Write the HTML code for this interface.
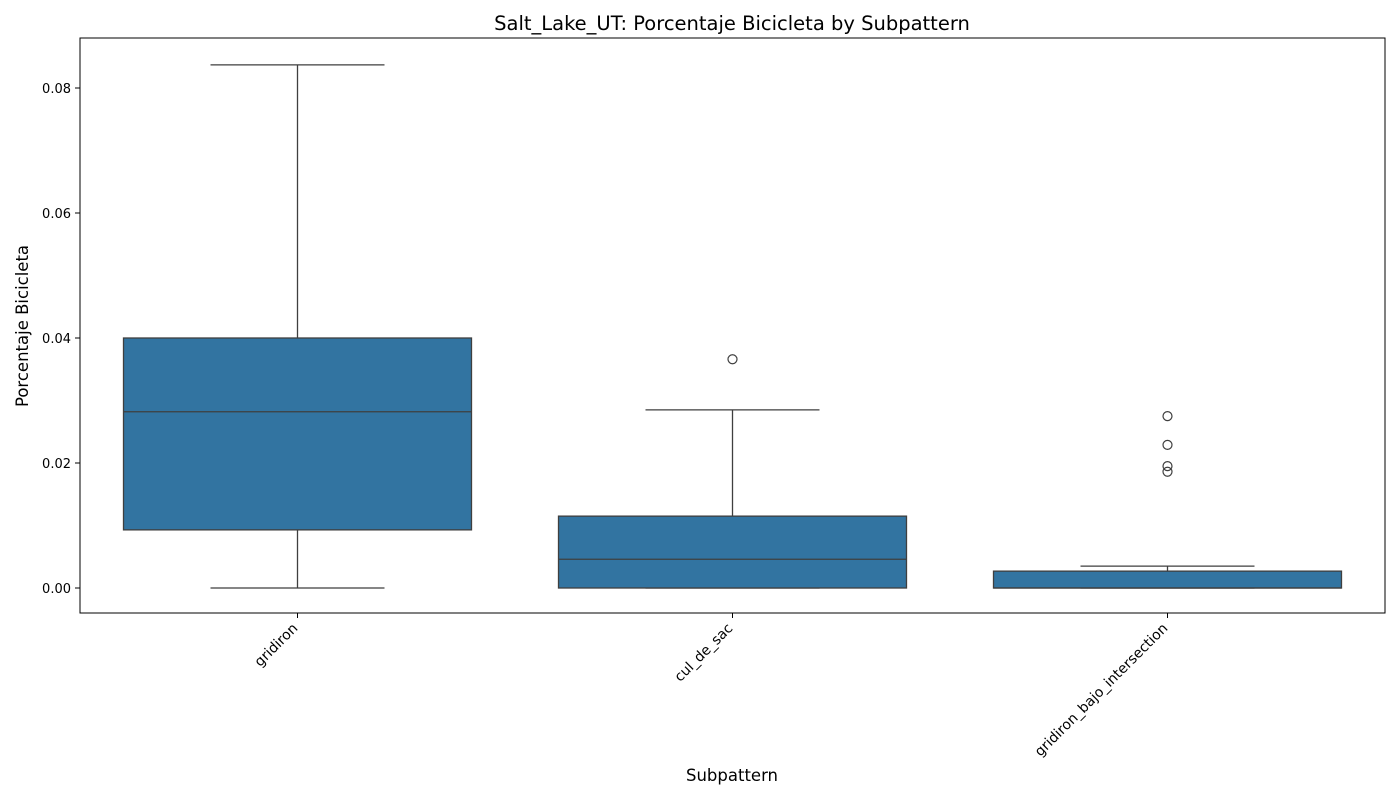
<!DOCTYPE html>
<html><head><meta charset="utf-8"><style>
html,body{margin:0;padding:0;background:#fff;}
svg text{font-family:"DejaVu Sans","Liberation Sans",sans-serif;}
</style></head><body>
<svg id="chart" width="1400" height="800" xmlns="http://www.w3.org/2000/svg">
<text x="732" y="30" font-size="19.5" text-anchor="middle" fill="#000">Salt_Lake_UT: Porcentaje Bicicleta by Subpattern</text>
<text x="732" y="781" font-size="16.5" text-anchor="middle">Subpattern</text>
<text transform="translate(28,326) rotate(-90)" font-size="16.5" text-anchor="middle">Porcentaje Bicicleta</text>
<g id="marks"></g>
<rect x="80" y="38" width="1305" height="575" fill="none" stroke="#000" stroke-width="1"/>
</svg>
<script>
const categories = ["gridiron","cul_de_sac","gridiron_bajo_intersection"];
const whiskerLow = [0, 0, 0];
const q1 = [0.0093, 0, 0];
const medians = [0.0282, 0.0046, 0];
const q3 = [0.0400, 0.0115, 0.0027];
const whiskerHigh = [0.0837, 0.0285, 0.0035];
const outliers = [[], [0.0366], [0.0275, 0.0229, 0.0195, 0.0186]];
const yTicks = [0, 0.02, 0.04, 0.06, 0.08];
const yTickLabels = ["0.00","0.02","0.04","0.06","0.08"];

const NS = "http://www.w3.org/2000/svg";
const g = document.getElementById("marks");
const plotL = 80, plotR = 1385;
function y(v){ return 588 - v * 6250; }
function xc(i){ return plotL + (plotR - plotL) * (i + 0.5) / categories.length; }
const band = (plotR - plotL) / categories.length;
function el(tag, attrs){ const e = document.createElementNS(NS, tag); for (const k in attrs) e.setAttribute(k, attrs[k]); g.appendChild(e); return e; }

yTicks.forEach((t, i) => {
  const tk = el("line", {x1: 80, x2: 75, y1: y(t), y2: y(t), stroke: "#000"});
  
  
  const tx = el("text", {x: 71, y: y(t) + 5, "font-size": 13, "text-anchor": "end"});
  tx.textContent = yTickLabels[i];
  
  
});

categories.forEach((c, i) => {
  const cx = xc(i), bw = band * 0.8, cw = bw / 2;
  const s = "#3f3f3f";
  const w1 = el("line", {x1: cx, x2: cx, y1: y(q3[i]), y2: y(whiskerHigh[i]), stroke: s, "stroke-width": 1.3});
  
  
  const w2 = el("line", {x1: cx, x2: cx, y1: y(q1[i]), y2: y(whiskerLow[i]), stroke: s, "stroke-width": 1.3});
  
  
  const c1 = el("line", {x1: cx - cw / 2, x2: cx + cw / 2, y1: y(whiskerHigh[i]), y2: y(whiskerHigh[i]), stroke: s, "stroke-width": 1.3});
  
  
  const c2 = el("line", {x1: cx - cw / 2, x2: cx + cw / 2, y1: y(whiskerLow[i]), y2: y(whiskerLow[i]), stroke: s, "stroke-width": 1.3});
  
  
  const b = el("rect", {x: cx - bw / 2, y: y(q3[i]), width: bw, height: y(q1[i]) - y(q3[i]), fill: "#3274a1", stroke: s, "stroke-width": 1.3});
  
  
  const m = el("line", {x1: cx - bw / 2, x2: cx + bw / 2, y1: y(medians[i]), y2: y(medians[i]), stroke: s, "stroke-width": 1.3});
  
  
  outliers[i].forEach(o => {
    const p = el("circle", {cx: cx, cy: y(o), r: 4.5, fill: "none", stroke: s, "stroke-width": 1.2});
    
    
  });
  const tk = el("line", {x1: cx, x2: cx, y1: 613, y2: 618, stroke: "#000"});
  
  
  const lx = cx + 1, ly = 629;
  const tx = el("text", {x: lx, y: ly, "font-size": 14, "text-anchor": "end", transform: "rotate(-45," + lx + "," + ly + ")"});
  tx.textContent = c;
  
  
});
</script>
</body></html>
